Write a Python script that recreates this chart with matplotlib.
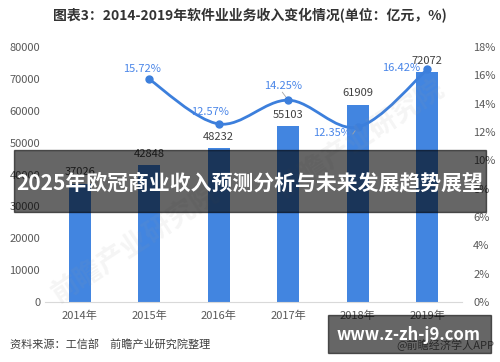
import matplotlib.pyplot as plt
import numpy as np
from matplotlib.patches import PathPatch, Rectangle
from matplotlib.path import Path

plt.rcParams["font.family"] = ["Noto Sans CJK SC", "DejaVu Sans"]

years = ["2014年", "2015年", "2016年", "2017年", "2018年", "2019年"]
revenue = [37026, 42848, 48232, 55103, 61909, 72072]
growth_years = ["2015年", "2016年", "2017年", "2018年", "2019年"]
growth = [15.72, 12.57, 14.25, 12.35, 16.42]

BAR_BLUE = "#4285e0"
LINE_BLUE = "#3c7fdc"
LABEL_BLUE = "#4a86e8"
GREY = "#595959"


def smooth_path(xs, ys, t=1 / 6):
    # catmull-rom style bezier through the points, like an office "smooth line"
    xs = np.asarray(xs, float)
    ys = np.asarray(ys, float)
    px = np.concatenate([[xs[0]], xs, [xs[-1]]])
    py = np.concatenate([[ys[0]], ys, [ys[-1]]])
    verts = [(xs[0], ys[0])]
    codes = [Path.MOVETO]
    for i in range(1, len(xs)):
        c1 = (px[i] + (px[i + 1] - px[i - 1]) * t, py[i] + (py[i + 1] - py[i - 1]) * t)
        c2 = (px[i + 1] - (px[i + 2] - px[i]) * t, py[i + 1] - (py[i + 2] - py[i]) * t)
        verts += [c1, c2, (xs[i], ys[i])]
        codes += [Path.CURVE4] * 3
    return Path(verts, codes)


fig = plt.figure(figsize=(5, 3.62), dpi=100)
ax = fig.add_axes([0.09, 0.1657, 0.834, 0.7044])
ax2 = ax.twinx()

x = np.arange(len(years))
bars = ax.bar(x, revenue, width=0.31, color=BAR_BLUE, zorder=2)
ax.set_xlim(-0.5, len(years) - 0.5)
ax.set_ylim(0, 80000)
ax.set_yticks(np.arange(0, 80001, 10000))
ax.set_xticks(x)
ax.set_xticklabels(years)
ax.tick_params(length=0, labelsize=8, colors=GREY)
ax.tick_params(axis="x", pad=6)
for s in ["top", "left", "right"]:
    ax.spines[s].set_visible(False)
ax.spines["bottom"].set_color("#d9d9d9")

for xi, v in zip(x, revenue):
    ax.annotate(str(v), (xi, v), xytext=(0, 11.5), textcoords="offset pixels",
                ha="center", va="center", fontsize=8, color="#404040", zorder=3)

gx = [years.index(y) for y in growth_years]
ax2.set_ylim(0, 18)
ax2.set_yticks(np.arange(0, 19, 2))
ax2.set_yticklabels([f"{v}%" for v in range(0, 19, 2)])
ax2.tick_params(length=0, labelsize=8, colors=GREY, pad=8)
for s in ax2.spines.values():
    s.set_visible(False)

ax2.add_patch(PathPatch(smooth_path(gx, growth), fill=False, edgecolor=LINE_BLUE,
                        lw=2, capstyle="round", zorder=4))
ax2.plot(gx, growth, "o", color=LINE_BLUE, markersize=5, zorder=5)

offsets = [(-7, 10), (-9, 12), (-5, 14), (-26, -6), (-26, 1)]
for xi, v, off in zip(gx, growth, offsets):
    ax2.annotate(f"{v:.2f}%", (xi, v), xytext=off, textcoords="offset pixels",
                 ha="center", va="center", fontsize=8, color=LABEL_BLUE, zorder=6)
# small leader lines
ax2.annotate("", (gx[2], growth[2]), xytext=(-6, 8), textcoords="offset pixels",
             arrowprops=dict(arrowstyle="-", color="#a6a6a6", lw=0.6, shrinkA=0, shrinkB=3))
ax2.annotate("", (gx[3], growth[3]), xytext=(-5, -7), textcoords="offset pixels",
             arrowprops=dict(arrowstyle="-", color="#a6a6a6", lw=0.6, shrinkA=0, shrinkB=3))

# faint watermarks
for wx, wy in [(0.27, 0.33), (0.72, 0.62)]:
    fig.text(wx, wy, "前瞻产业研究院", fontsize=20, fontweight="bold", color="#9a9a9a",
             alpha=0.1, rotation=33, ha="center", va="center", zorder=8)

fig.text(0.5, 1 - 16 / 362, "图表3：2014-2019年软件业业务收入变化情况(单位：亿元，%)",
         ha="center", va="center", fontsize=10, fontweight="bold", color="#333333")
fig.text(10 / 500, 1 - 344 / 362, "资料来源：工信部　前瞻产业研究院整理",
         ha="left", va="center", fontsize=8, color="#404040")
fig.text(494 / 500, 1 - 345 / 362, "@前瞻经济学人APP",
         ha="right", va="center", fontsize=8, color="#666666")

# overlay bands
fig.patches.append(Rectangle((14 / 500, 1 - 212 / 362), 472 / 500, 62 / 362,
                             transform=fig.transFigure, color="black", alpha=0.6, zorder=10))
fig.text(0.5, 1 - 183 / 362, "2025年欧冠商业收入预测分析与未来发展趋势展望",
         ha="center", va="center", fontsize=15, fontweight="bold", color="white", zorder=11)
fig.patches.append(Rectangle((328 / 500, 1 - 353 / 362), 163 / 500, 38 / 362,
                             transform=fig.transFigure, color="black", alpha=0.6, zorder=10))
fig.text(409 / 500, 1 - 335 / 362, "www.z-zh-j9.com",
         ha="center", va="center", fontsize=12, fontweight="bold", color="white", zorder=11)

fig.savefig("out.png", dpi=100)
